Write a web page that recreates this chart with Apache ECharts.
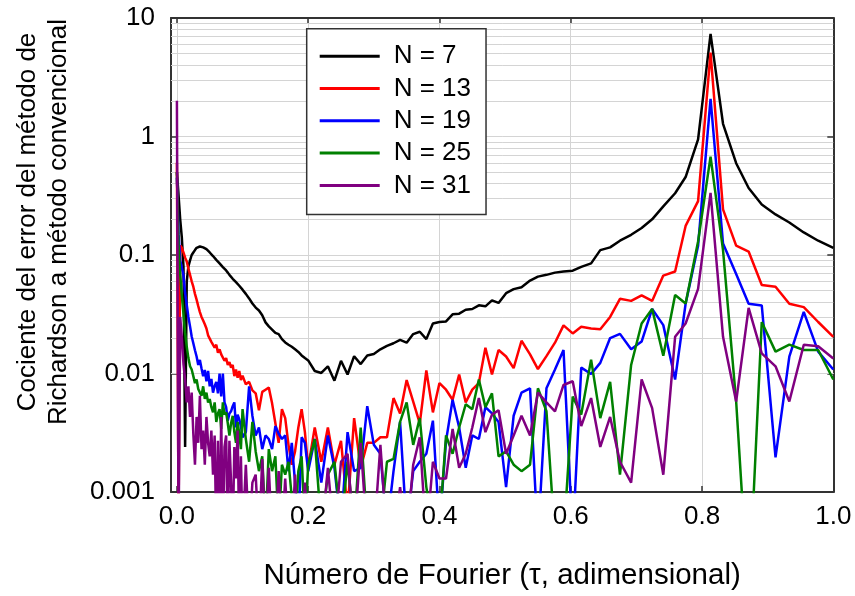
<!DOCTYPE html>
<html>
<head>
<meta charset="utf-8">
<script src="https://cdn.jsdelivr.net/npm/echarts@6/dist/echarts.min.js"></script>
<style>
  html, body { margin: 0; padding: 0; background: #fff; }
  #chart { width: 855px; height: 596px; }
</style>
</head>
<body>
<div id="chart"></div>
<script>
// Fourier number samples (finer spacing near the start of the transient)
const tau = [
  0, 0.0025, 0.005, 0.0075, 0.01, 0.0125, 0.015, 0.0175, 0.02, 0.0225, 0.025, 0.0275, 0.03, 0.0325,
  0.035, 0.0375, 0.04, 0.0425, 0.045, 0.0475, 0.05, 0.0525, 0.055, 0.0575, 0.06, 0.0625, 0.065,
  0.0675, 0.07, 0.0725, 0.075, 0.0775, 0.08, 0.0825, 0.085, 0.0875, 0.09, 0.0925, 0.095, 0.0975, 0.1,
  0.105, 0.11, 0.115, 0.12, 0.125, 0.13, 0.135, 0.14, 0.145, 0.15, 0.155, 0.16, 0.165, 0.17, 0.175,
  0.18, 0.185, 0.19, 0.195, 0.2,
  0.21, 0.22, 0.23, 0.24, 0.25, 0.26, 0.27, 0.28, 0.29, 0.30, 0.31, 0.32, 0.33, 0.34, 0.35, 0.36,
  0.37, 0.38, 0.39, 0.40, 0.41, 0.42, 0.43, 0.44, 0.45, 0.46, 0.47, 0.48,
  0.49, 0.5015, 0.513, 0.525, 0.538, 0.55, 0.563, 0.576, 0.589, 0.603, 0.616, 0.631, 0.645, 0.66,
  0.675, 0.692, 0.708, 0.724, 0.741, 0.759, 0.775, 0.794, 0.813, 0.832, 0.852, 0.871, 0.891, 0.912,
  0.933, 0.955, 0.977, 1.0
];

// Error ratio (Richardson / conventional) for each node count
const ratioN7 = [
  0.5, 0.32, 0.2, 0.14, 0.08, 0.0024, 0.06, 0.08, 0.09, 0.1, 0.105, 0.11, 0.115, 0.117, 0.118,
  0.117, 0.116, 0.114, 0.112, 0.109, 0.105, 0.102, 0.098, 0.095, 0.091, 0.088, 0.085, 0.082, 0.079,
  0.076, 0.074, 0.071, 0.068, 0.066, 0.063, 0.061, 0.059, 0.057, 0.055, 0.053, 0.051,
  0.047, 0.043, 0.039, 0.036, 0.034, 0.031, 0.027, 0.025, 0.0235, 0.022, 0.0215, 0.0195, 0.0183,
  0.0175, 0.0168, 0.016, 0.0152, 0.0142, 0.0135, 0.0129,
  0.0105, 0.0101, 0.0115, 0.0087, 0.0128, 0.0098, 0.0140, 0.0120, 0.0142, 0.0146, 0.0160, 0.0171,
  0.0180, 0.0192, 0.0182, 0.0215, 0.0225, 0.0195, 0.0264, 0.0272, 0.0275, 0.0316, 0.0320, 0.0345,
  0.0350, 0.0376, 0.0369, 0.0414,
  0.0394, 0.0476, 0.0515, 0.0535, 0.0608, 0.0657, 0.068, 0.071, 0.0725, 0.0737, 0.0795, 0.085,
  0.11, 0.116, 0.132, 0.148, 0.169, 0.2, 0.257, 0.332, 0.455, 0.944, 7.35, 1.28, 0.595, 0.368,
  0.267, 0.22, 0.188, 0.155, 0.132, 0.115
];
const ratioN13 = [
  0.6, 0.0005, 0.12, 0.115, 0.105, 0.095, 0.088, 0.077, 0.068, 0.06, 0.054, 0.047, 0.042, 0.037,
  0.033, 0.030, 0.028, 0.026, 0.024, 0.021, 0.0205, 0.0185, 0.019, 0.0165, 0.0175, 0.015, 0.016,
  0.0145, 0.0148, 0.0128, 0.0135, 0.0118, 0.0125, 0.0112, 0.0118, 0.0095, 0.0108, 0.0092, 0.0105,
  0.0088, 0.0096,
  0.0081, 0.0085, 0.0072, 0.0068, 0.0049, 0.007, 0.0073, 0.0076, 0.0056, 0.0038, 0.0026, 0.005,
  0.0042, 0.0025, 0.0017, 0.0022, 0.0035, 0.005, 0.0032, 0.0016,
  0.0035, 0.0018, 0.0035, 0.0017, 0.0027, 0.0007, 0.0042, 0.0016, 0.0026, 0.0026, 0.0029, 0.0029,
  0.0062, 0.0046, 0.0088, 0.0058, 0.0038, 0.0106, 0.0047, 0.0083, 0.0073, 0.006, 0.0098, 0.0057,
  0.0073, 0.0083, 0.0165, 0.0098,
  0.0158, 0.0139, 0.0111, 0.0189, 0.0145, 0.0109, 0.014, 0.0182, 0.0255, 0.0218, 0.0248, 0.024,
  0.0236, 0.03, 0.0427, 0.041, 0.0457, 0.041, 0.067, 0.0725, 0.176, 0.285, 5.1, 0.243, 0.12, 0.107,
  0.0558, 0.054, 0.0388, 0.0363, 0.0272, 0.0204
];
const ratioN19 = [
  0.45, 0.15, 0.09, 0.078, 0.067, 0.048, 0.038, 0.03, 0.025, 0.0205, 0.018, 0.0157, 0.0139, 0.0118,
  0.013, 0.011, 0.0095, 0.0107, 0.0086, 0.0105, 0.0078, 0.009, 0.0069, 0.0078, 0.0085, 0.0068, 0.01,
  0.0064, 0.01, 0.0057, 0.0052, 0.004, 0.0046, 0.0048, 0.0053, 0.0057, 0.0035, 0.0045, 0.0041,
  0.0036, 0.0029,
  0.0032, 0.0078, 0.0044, 0.003, 0.0035, 0.0023, 0.003, 0.0028, 0.0023, 0.0036, 0.0031, 0.0028,
  0.003, 0.0015, 0.0026, 0.0012, 0.0005, 0.0029, 0.0026, 0.0015,
  0.0028, 0.0012, 0.003, 0.0016, 0.0005, 0.0032, 0.0015, 0.0016, 0.0053, 0.0025, 0.0021, 0.0005,
  0.0015, 0.0039, 0.0005, 0.0015, 0.0018, 0.0021, 0.004, 0.0005, 0.0027, 0.006, 0.0035, 0.0016,
  0.003, 0.0028, 0.0052, 0.0046,
  0.0039, 0.0011, 0.0044, 0.0069, 0.0075, 0.0004, 0.0075, 0.0108, 0.0158, 0.0004, 0.0112, 0.0099,
  0.0123, 0.0199, 0.0216, 0.016, 0.0186, 0.0351, 0.0256, 0.0089, 0.0388, 0.12, 2.08, 0.125, 0.069,
  0.0388, 0.0375, 0.00196, 0.0139, 0.0331, 0.0153, 0.0108
];
const ratioN25 = [
  0.5, 0.12, 0.07, 0.045, 0.032, 0.022, 0.0168, 0.0135, 0.0115, 0.0108, 0.0095, 0.0083, 0.0089,
  0.0074, 0.0069, 0.0065, 0.0078, 0.0061, 0.0069, 0.0057, 0.0061, 0.0052, 0.0047, 0.0057, 0.0039,
  0.0046, 0.005, 0.0034, 0.0057, 0.0045, 0.0047, 0.0038, 0.003, 0.0038, 0.0044, 0.0032, 0.0026,
  0.0039, 0.0031, 0.0023, 0.005,
  0.0028, 0.0018, 0.0039, 0.0022, 0.0015, 0.002, 0.0005, 0.0023, 0.0015, 0.002, 0.0005, 0.0017,
  0.0014, 0.0018, 0.0009, 0.0005, 0.0015, 0.002, 0.0005, 0.0017,
  0.0028, 0.0005, 0.0014, 0.0018, 0.0005, 0.0018, 0.0005, 0.0035, 0.0005, 0.0004, 0.0005, 0.0018,
  0.0019, 0.0039, 0.0057, 0.0025, 0.0042, 0.0011, 0.0005, 0.0005, 0.003, 0.0021, 0.0035, 0.0055,
  0.005, 0.0089, 0.0052, 0.0068,
  0.002, 0.0022, 0.0017, 0.0015, 0.0017, 0.0075, 0.0048, 0.0004, 0.0004, 0.0064, 0.0045, 0.0131,
  0.0042, 0.0085, 0.0014, 0.0118, 0.0264, 0.0351, 0.0141, 0.046, 0.039, 0.13, 0.676, 0.11, 0.0058,
  0.00012, 0.0272, 0.0153, 0.0175, 0.0158, 0.0158, 0.0089
];
const ratioN31 = [
  2.0, 0.0004, 0.03, 0.02, 0.012, 0.0089, 0.0057, 0.0078, 0.0043, 0.0069, 0.0031, 0.0017, 0.0043,
  0.0026, 0.0065, 0.0023, 0.0033, 0.0017, 0.0043, 0.0026, 0.002, 0.0033, 0.0014, 0.003, 0.0004,
  0.0027, 0.0004, 0.0043, 0.0004, 0.0024, 0.003, 0.0004, 0.0027, 0.0012, 0.0004, 0.0024, 0.0013,
  0.0033, 0.0004, 0.002, 0.0004,
  0.0017, 0.0004, 0.0012, 0.0014, 0.0004, 0.0019, 0.0004, 0.0016, 0.0004, 0.0004, 0.0015, 0.0004,
  0.0013, 0.0004, 0.0004, 0.0014, 0.0004, 0.0004, 0.0012, 0.0004,
  0.0004, 0.0004, 0.0016, 0.0004, 0.0018, 0.0021, 0.0004, 0.0026, 0.0004, 0.0004, 0.0025, 0.0004,
  0.0004, 0.0011, 0.0004, 0.0017, 0.0029, 0.0004, 0.0018, 0.0013, 0.0013, 0.0034, 0.0016, 0.0021,
  0.0035, 0.0062, 0.0032, 0.0045,
  0.0049, 0.0021, 0.003, 0.0044, 0.003, 0.0069, 0.0057, 0.0048, 0.008, 0.0086, 0.0036, 0.0062,
  0.0024, 0.0043, 0.0018, 0.0012, 0.0089, 0.0051, 0.0014, 0.0204, 0.0264, 0.0518, 0.334, 0.0204,
  0.0058, 0.0358, 0.0148, 0.0115, 0.0058, 0.0175, 0.017, 0.0134
];

const seriesNames = ['N = 7', 'N = 13', 'N = 19', 'N = 25', 'N = 31'];
const seriesValues = [ratioN7, ratioN13, ratioN19, ratioN25, ratioN31];
const xTickValues = [0, 0.2, 0.4, 0.6, 0.8, 1.0];
const yTickLabels = ['0.001', '0.01', '0.1', '1', '10'];

const lineColors = ['#000000', '#ff0000', '#0000ff', '#008000', '#800080'];
const FONT = '"Liberation Sans", Arial, Helvetica, sans-serif';
const FRAME = '#333333';
const GRID = '#d4d4d4';

// light lines at 2..9 within every decade of the log axis
const minorGrid = [];
[0.001, 0.01, 0.1, 1].forEach(function (dec) {
  for (let k = 2; k <= 9; k++) minorGrid.push(+(dec * k).toPrecision(2));
});

const chart = echarts.init(document.getElementById('chart'), null, { renderer: 'canvas' });

const dataSeries = seriesNames.map(function (name, s) {
  return {
    name: name,
    type: 'line',
    xAxisIndex: 0,
    yAxisIndex: 0,
    data: tau.map(function (t, i) { return [t, seriesValues[s][i]]; }),
    showSymbol: false,
    symbol: 'none',
    clip: true,
    z: 3 + s,
    color: lineColors[s],
    lineStyle: { color: lineColors[s], width: 2.5 },
    emphasis: { disabled: true }
  };
});

const gridSeries = {
  type: 'line',
  xAxisIndex: 0,
  yAxisIndex: 0,
  data: [],
  silent: true,
  z: 1,
  markLine: {
    z: 1,
    silent: true,
    symbol: ['none', 'none'],
    label: { show: false },
    animation: false,
    lineStyle: { color: GRID, width: 1, type: 'solid' },
    emphasis: { disabled: true },
    data: minorGrid.map(function (v) { return { yAxis: v }; })
  }
};

const frameAxisLine = { show: true, onZero: false, lineStyle: { color: FRAME, width: 2 } };

chart.setOption({
  animation: false,
  backgroundColor: '#ffffff',
  textStyle: { fontFamily: FONT },
  grid: { left: 171, right: 21.7, top: 18, bottom: 99.3, containLabel: false },
  xAxis: [{
    type: 'value',
    position: 'bottom',
    min: -0.009,
    max: 1,
    axisLine: frameAxisLine,
    axisTick: { show: true, inside: true, length: 6, customValues: xTickValues,
                lineStyle: { color: FRAME, width: 1.5 } },
    axisLabel: { show: true, customValues: xTickValues, margin: 12, fontSize: 26,
                 fontFamily: FONT, color: '#000',
                 formatter: function (v) { return v.toFixed(1); } },
    splitLine: { show: true, lineStyle: { color: GRID, width: 1 } },
    name: 'Número de Fourier (τ, adimensional)',
    nameLocation: 'middle',
    nameGap: 69,
    nameTextStyle: { fontSize: 29.5, fontFamily: FONT, color: '#000' }
  }, {
    type: 'value',
    position: 'top',
    min: -0.009,
    max: 1,
    axisLine: frameAxisLine,
    axisTick: { show: true, inside: true, length: 6, customValues: xTickValues,
                lineStyle: { color: FRAME, width: 1.5 } },
    axisLabel: { show: false },
    splitLine: { show: false }
  }],
  yAxis: [{
    type: 'log',
    logBase: 10,
    position: 'left',
    min: 0.001,
    max: 10,
    axisLine: frameAxisLine,
    axisTick: { show: true, inside: true, length: 6, lineStyle: { color: FRAME, width: 1.5 } },
    axisLabel: { show: true, margin: 16, fontSize: 26, fontFamily: FONT, color: '#000',
                 formatter: function (v) {
                   const k = Math.round(Math.log10(v)) + 3;
                   return yTickLabels[k] !== undefined ? yTickLabels[k] : String(v);
                 } },
    splitLine: { show: true, lineStyle: { color: GRID, width: 1 } },
    minorTick: { show: false },
    minorSplitLine: { show: false }
  }, {
    type: 'log',
    logBase: 10,
    position: 'right',
    min: 0.001,
    max: 10,
    axisLine: frameAxisLine,
    axisTick: { show: true, inside: true, length: 6, lineStyle: { color: FRAME, width: 1.5 } },
    axisLabel: { show: false },
    splitLine: { show: false }
  }],
  legend: {
    orient: 'vertical',
    left: 306.7,
    top: 28.7,
    z: 20,
    padding: [12.5, 15, 14, 13],
    backgroundColor: '#ffffff',
    borderColor: FRAME,
    borderWidth: 1.5,
    borderRadius: 0,
    icon: 'rect',
    itemWidth: 60,
    itemHeight: 3,
    itemGap: 2.3,
    selectedMode: false,
    textStyle: { fontSize: 26, fontFamily: FONT, color: '#000', lineHeight: 30,
                 padding: [0, 0, 0, 9] },
    data: seriesNames
  },
  graphic: [{
    type: 'text',
    x: 43,
    y: 222,
    rotation: Math.PI / 2,
    silent: true,
    style: {
      text: 'Cociente del error del método de\nRichardson a método convencional',
      font: '26px ' + FONT,
      fill: '#000',
      align: 'center',
      verticalAlign: 'middle',
      lineHeight: 31
    }
  }],
  series: [gridSeries].concat(dataSeries)
});
</script>
</body>
</html>
